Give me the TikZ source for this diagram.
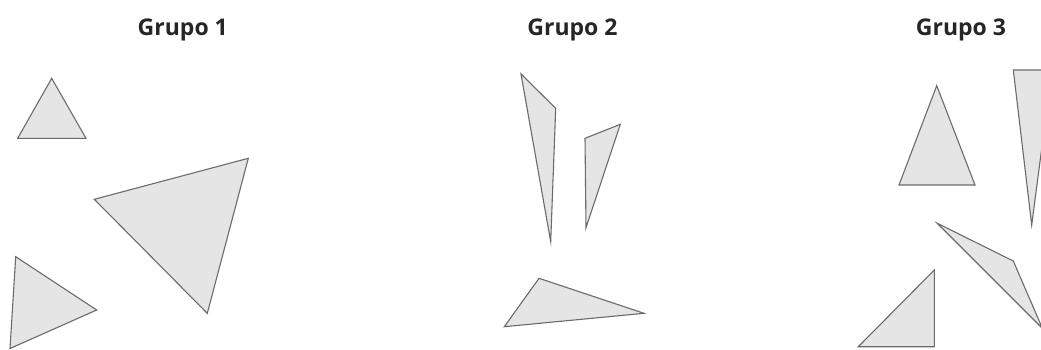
\documentclass[tikz,border=0pt]{standalone}
\usepackage{fontspec}
\setmainfont{Open Sans}
\begin{document}
\begin{tikzpicture}[x=1pt,y=-1pt,
  tri/.style={draw=black!58,fill=black!10,line width=1.1pt,line join=miter},
  title/.style={font=\fontsize{23}{26}\selectfont\bfseries,text=black!85,anchor=base,inner sep=0pt}]
\useasboundingbox (0,0) rectangle (1041,349);
\begin{scope}
\clip (0,0) rectangle (1041,349);
% Grupo 1
\draw[tri] (51.7,78.3) -- (86,138.3) -- (17.7,138.3) -- cycle;
\draw[tri] (94.3,199.3) -- (248.3,158.3) -- (207.3,313.3) -- cycle;
\draw[tri] (15.7,256.7) -- (96.7,310) -- (10,348.5) -- cycle;
% Grupo 2
\draw[tri] (521,74) -- (555.7,108.3) -- (550.7,241.7) -- cycle;
\draw[tri] (620.3,124.3) -- (585,138.3) -- (586,227.7) -- cycle;
\draw[tri] (539,278.3) -- (644,313.3) -- (504.3,326.7) -- cycle;
% Grupo 3
\draw[tri] (936.7,85.7) -- (975,185) -- (899,185) -- cycle;
\draw[tri] (1013.3,70) -- (1052,70) -- (1031.7,225) -- cycle;
\draw[tri] (937.3,223.3) -- (1013.3,261) -- (1042.4,328.4) -- cycle;
\draw[tri] (934.3,270) -- (934.3,346.7) -- (858.3,346.7) -- cycle;
\end{scope}
\node[title] (g1) at (182.8,35.7) {Grupo 1};
\node[title] (g2) at (572.5,35.7) {Grupo 2};
\node[title] (g3) at (961,35.7) {Grupo 3};
\end{tikzpicture}
\end{document}
